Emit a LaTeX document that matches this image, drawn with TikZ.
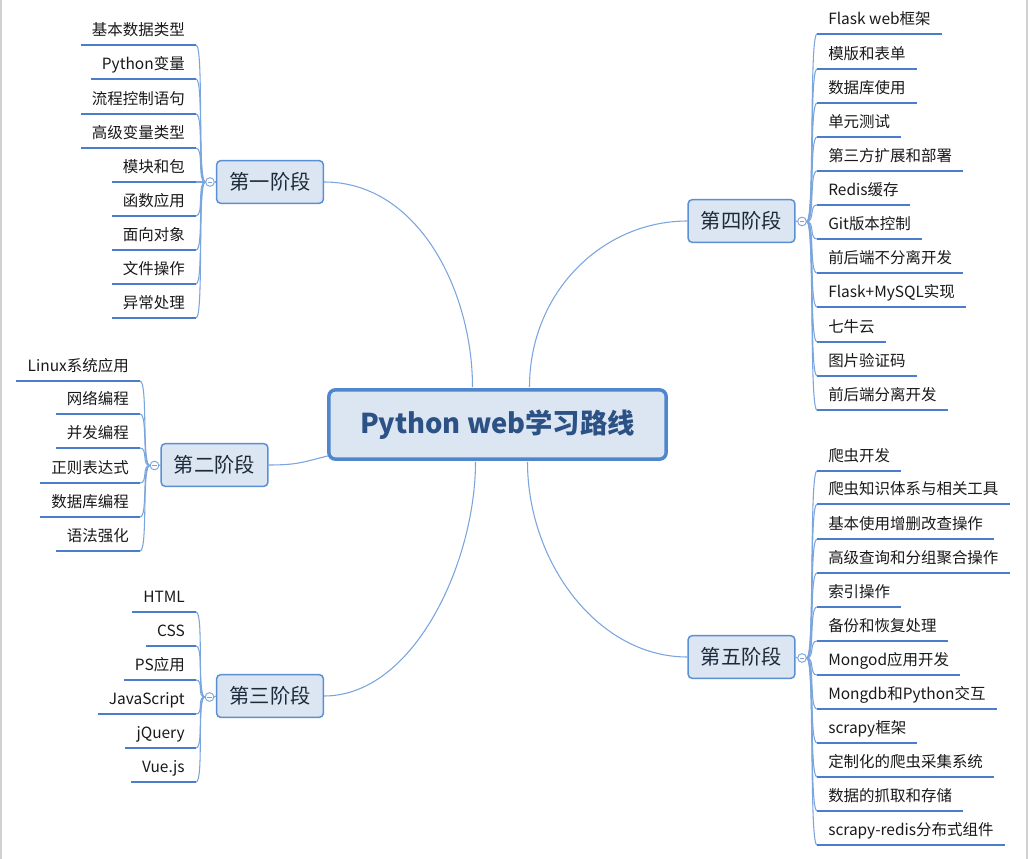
\documentclass[tikz,border=0pt]{standalone}
\usepackage{fontspec}
\setmainfont{Noto Sans CJK SC}
\usetikzlibrary{calc}
\definecolor{boxfill}{HTML}{DCE6F2}
\definecolor{boxline}{HTML}{5B8FD4}
\definecolor{mainline}{HTML}{4F86CC}
\definecolor{uline}{HTML}{4A7ECB}
\definecolor{twig}{HTML}{7BA5DD}
\definecolor{titlecol}{HTML}{2B5185}
\definecolor{stagetxt}{HTML}{1D2A3A}
\begin{document}
\begin{tikzpicture}[x=0.75pt,y=-0.75pt,
  stagebox/.style={draw=boxline,fill=boxfill,line width=1.1pt,rounded corners=3pt,
    minimum width=80pt,minimum height=32pt,inner sep=0pt,
    font=\fontsize{15.2}{18}\selectfont,text=stagetxt},
  centerbox/.style={draw=mainline,fill=boxfill,line width=2.6pt,rounded corners=5pt,
    minimum width=253pt,minimum height=52pt,inner sep=0pt,
    font=\fontsize{20.5}{24}\selectfont\bfseries,text=titlecol},
  leaf/.style={inner xsep=8.25pt,inner ysep=6.8pt,text height=9pt,text depth=0pt,
    font=\fontsize{11.6}{14}\selectfont,text=black!90},
  leafL/.style={leaf,anchor=south east},
  leafR/.style={leaf,anchor=south west},
  ulinestyle/.style={draw=uline,line width=2.2pt},
  twigline/.style={draw=twig,line width=0.8pt},
  branchline/.style={draw=twig,line width=0.8pt},
  knob/.style={circle,draw=twig,fill=white,line width=0.7pt,minimum size=6.5pt,inner sep=0pt,
    path picture={\draw[twig,line width=0.6pt] ([xshift=-1.6pt]path picture bounding box.center) -- ([xshift=1.6pt]path picture bounding box.center);}}
]
\useasboundingbox (0,0) rectangle (1028,859);
\fill[white] (0,0) rectangle (1028,859);
\draw[black!18,line width=1.2pt] (0.8,0) -- (0.8,859);
\draw[black!18,line width=1.5pt] (1026.5,0) -- (1026.5,859);

% center
\node[centerbox] (center) at (497.5,424.5) {Python web学习路线};

% stages
\node[stagebox] (s1) at (270,182) {第一阶段};
\node[stagebox] (s2) at (214.5,465) {第二阶段};
\node[stagebox] (s3) at (270,696) {第三阶段};
\node[stagebox] (s4) at (741.5,221) {第四阶段};
\node[stagebox] (s5) at (741.5,657) {第五阶段};

% main branches
\draw[branchline] (s1.east) .. controls +(95,0) and +(0,-95) .. ($(center.north)+(-25,-1)$);
\draw[branchline] (s4.west) .. controls +(-85,0) and +(0,-95) .. ($(center.north)+(32,-1)$);
\draw[branchline] (s3.east) .. controls +(90,0) and +(0,100) .. ($(center.south)+(-22,1)$);
\draw[branchline] (s5.west) .. controls +(-90,0) and +(0,100) .. ($(center.south)+(30,1)$);
\draw[branchline] (s2.east) .. controls +(30,0) and +(-25,6) .. ($(center.south west)+(1,-5)$);

% knobs
\node[knob] (c1) at (210,182) {};
\node[knob] (c2) at (154.5,465.5) {};
\node[knob] (c3) at (209.5,697) {};
\node[knob] (c4) at (802,221.5) {};
\node[knob] (c5) at (802,658) {};
\draw[twigline] (c1.east) -- (s1.west);
\draw[twigline] (c2.east) -- (s2.west);
\draw[twigline] (c3.east) -- (s3.west);
\draw[twigline] (c4.west) -- (s4.east);
\draw[twigline] (c5.west) -- (s5.east);

% stage 1 leaves
\foreach \y/\t [count=\i] in {45/基本数据类型,79/Python变量,114/流程控制语句,148/高级变量类型,182/模块和包,216/函数应用,250/面向对象,284/文件操作,318/异常处理}{
  \node[leafL] (a\i) at (196,\y) {\t};
  \draw[twigline] (c1.west) .. controls +(-8,0) and +(8,0) .. (a\i.south east);
  \draw[ulinestyle] (a\i.south west) -- (a\i.south east);
}
% stage 2 leaves
\foreach \y/\t [count=\i] in {381/Linux系统应用,414/网络编程,448/并发编程,483/正则表达式,517/数据库编程,551/语法强化}{
  \node[leafL] (b\i) at (140,\y) {\t};
  \draw[twigline] (c2.west) .. controls +(-8,0) and +(8,0) .. (b\i.south east);
  \draw[ulinestyle] (b\i.south west) -- (b\i.south east);
}
% stage 3 leaves
\foreach \y/\t [count=\i] in {612/HTML,646/CSS,680/PS应用,714/JavaScript,748/jQuery,782/Vue.js}{
  \node[leafL] (d\i) at (196,\y) {\t};
  \draw[twigline] (c3.west) .. controls +(-8,0) and +(8,0) .. (d\i.south east);
  \draw[ulinestyle] (d\i.south west) -- (d\i.south east);
}
% stage 4 leaves
\foreach \y/\t [count=\i] in {34/Flask web框架,69/模版和表单,103/数据库使用,137/单元测试,171/第三方扩展和部署,205/Redis缓存,239/Git版本控制,273/前后端不分离开发,307/Flask+MySQL实现,342/七牛云,376/图片验证码,410/前后端分离开发}{
  \node[leafR] (e\i) at (817,\y) {\t};
  \draw[twigline] (c4.east) .. controls +(8,0) and +(-8,0) .. (e\i.south west);
  \draw[ulinestyle] (e\i.south west) -- (e\i.south east);
}
% stage 5 leaves
\foreach \y/\t [count=\i] in {471/爬虫开发,504/爬虫知识体系与相关工具,539/基本使用增删改查操作,573/高级查询和分组聚合操作,607/索引操作,641/备份和恢复处理,675/Mongod应用开发,709/Mongdb和Python交互,743/scrapy框架,777/定制化的爬虫采集系统,811/数据的抓取和存储,845/scrapy-redis分布式组件}{
  \node[leafR] (f\i) at (817,\y) {\t};
  \draw[twigline] (c5.east) .. controls +(8,0) and +(-8,0) .. (f\i.south west);
  \draw[ulinestyle] (f\i.south west) -- (f\i.south east);
}
\end{tikzpicture}
\end{document}
